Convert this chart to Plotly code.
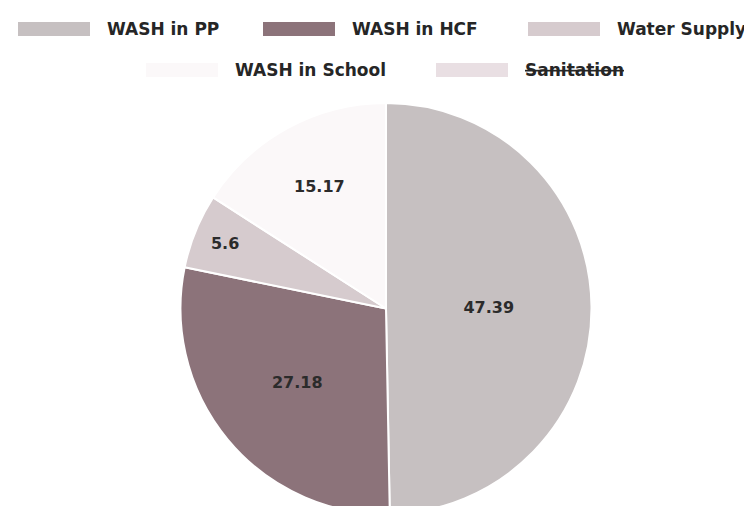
import plotly.graph_objects as go

# slice data (clockwise from 12 o'clock); Sanitation is toggled off
labels = ["WASH in PP", "WASH in HCF", "Water Supply", "WASH in School", "Sanitation"]
values = [47.39, 27.18, 5.6, 15.17, 4.66]
colors = ["#c6c0c1", "#8c737a", "#d6cbce", "#fbf8f9", "#e9dfe3"]
hidden = ["Sanitation"]

W, H = 752, 506

fig = go.Figure(
    go.Pie(
        labels=labels,
        values=values,
        sort=False,
        direction="clockwise",
        rotation=0,
        marker=dict(colors=colors, line=dict(color="white", width=2)),
        texttemplate="%{value}",
        textposition="inside",
        insidetextorientation="horizontal",
        textfont=dict(family="DejaVu Sans", size=16, color="#2b2b2b", weight="bold"),
        hoverinfo="label+value",
        domain=dict(x=[0.2287, 0.7766], y=[0, 0.8123]),
        showlegend=False,
    )
)

# hand-made legend (wide swatches, struck-through hidden item like the source)
# (swatch left x, row centre y) in pixels
legend_pos = [(10, 21), (255, 21), (520, 21), (138, 62), (428, 62)]
sw_w, sw_h, gap = 72, 14, 15

shapes, notes = [], []
for lab, col, (x0, yc) in zip(labels, colors, legend_pos):
    shapes.append(dict(
        type="rect", xref="paper", yref="paper",
        x0=x0 / W, x1=(x0 + sw_w) / W,
        y0=1 - (yc + sw_h / 2) / H, y1=1 - (yc - sw_h / 2) / H,
        fillcolor=col, line=dict(width=0), layer="above",
    ))
    notes.append(dict(
        text=lab, xref="paper", yref="paper",
        x=(x0 + sw_w + gap) / W, y=1 - yc / H,
        xanchor="left", yanchor="middle", showarrow=False,
        font=dict(family="DejaVu Sans", size=17, color="#262626", weight="bold",
                  lineposition="through" if lab in hidden else "none"),
    ))

fig.update_layout(
    width=W,
    height=H,
    margin=dict(l=0, r=0, t=0, b=0),
    paper_bgcolor="white",
    plot_bgcolor="white",
    hiddenlabels=hidden,
    shapes=shapes,
    annotations=notes,
)

fig.write_html("out.html")
